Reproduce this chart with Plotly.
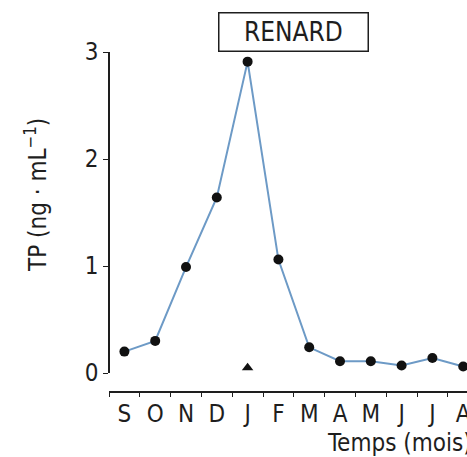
import plotly.graph_objects as go

months = ["S", "O", "N", "D", "J", "F", "M", "A", "M", "J", "J", "A"]
tp_values = [0.20, 0.30, 0.99, 1.64, 2.91, 1.06, 0.24, 0.11, 0.11, 0.07, 0.14, 0.06]
triangle_month_index = [4]
triangle_values = [0.05]
y_ticks = [0, 1, 2, 3]

FONT = "Liberation Sans Narrow, DejaVu Sans Condensed, Arial Narrow, sans-serif"
INK = "#1e1e1e"

W, H = 467, 457
L, R, T, B = 109, 0, 52, 65
pw, ph = W - L - R, H - T - B

def px(xp):
    return (xp - L) / pw

def py(yp):
    return (H - B - yp) / ph

x_idx = list(range(len(months)))

fig = go.Figure()
fig.add_trace(go.Scatter(
    x=x_idx, y=tp_values, mode="lines+markers",
    line=dict(color="#6d9ac6", width=2),
    marker=dict(color="#111111", size=10),
    cliponaxis=False, showlegend=False,
))
fig.add_trace(go.Scatter(
    x=triangle_month_index, y=triangle_values, mode="markers",
    marker=dict(color="#111111", size=10, symbol="triangle-up"),
    cliponaxis=False, showlegend=False,
))

fig.update_layout(
    width=W, height=H,
    margin=dict(l=L, r=R, t=T, b=B, pad=0, autoexpand=False),
    plot_bgcolor="white", paper_bgcolor="white",
    font=dict(family=FONT, color=INK),
    xaxis=dict(
        range=[-0.5, -0.5 + pw / 30.8],
        anchor="free", position=0, automargin=False,
        showline=True, linecolor=INK, linewidth=1.5,
        showgrid=False, zeroline=False,
        tickmode="array", tickvals=x_idx, ticktext=months,
        ticklabeloverflow="allow",
        ticks="", tickfont=dict(size=24, family=FONT, color=INK),
        minor=dict(tick0=-0.5, dtick=1, ticks="outside", ticklen=4,
                   tickwidth=1.2, tickcolor=INK, showgrid=False),
    ),
    yaxis=dict(
        range=[0, 3],
        domain=[(392 - 373) / ph, 1],
        anchor="free", position=0, automargin=False,
        showline=True, linecolor=INK, linewidth=1.5,
        showgrid=False, zeroline=False,
        tickmode="array", tickvals=y_ticks,
        ticks="outside", ticklen=5, tickwidth=1.2, tickcolor=INK,
        tickfont=dict(size=24, family=FONT, color=INK),
    ),
    annotations=[
        dict(text="TP (ng · mL<sup>−1</sup>)", textangle=-90,
             xref="paper", yref="paper", x=px(36), y=py(195),
             xanchor="center", yanchor="middle", showarrow=False,
             font=dict(size=24, family=FONT, color=INK)),
        dict(text="Temps (mois)",
             xref="paper", yref="paper", x=px(325), y=py(443),
             xanchor="left", yanchor="middle", showarrow=False,
             font=dict(size=24, family=FONT, color=INK)),
        dict(text="RENARD",
             xref="paper", yref="paper", x=px(293), y=py(32.5),
             xanchor="center", yanchor="middle", showarrow=False,
             width=146, height=35, bordercolor=INK, borderwidth=1.5,
             font=dict(size=26, family=FONT, color=INK)),
    ],
)

fig.write_html("out.html",
               config={"displayModeBar": False},
               post_script="document.body.style.margin='0';document.body.style.overflow='hidden';")
